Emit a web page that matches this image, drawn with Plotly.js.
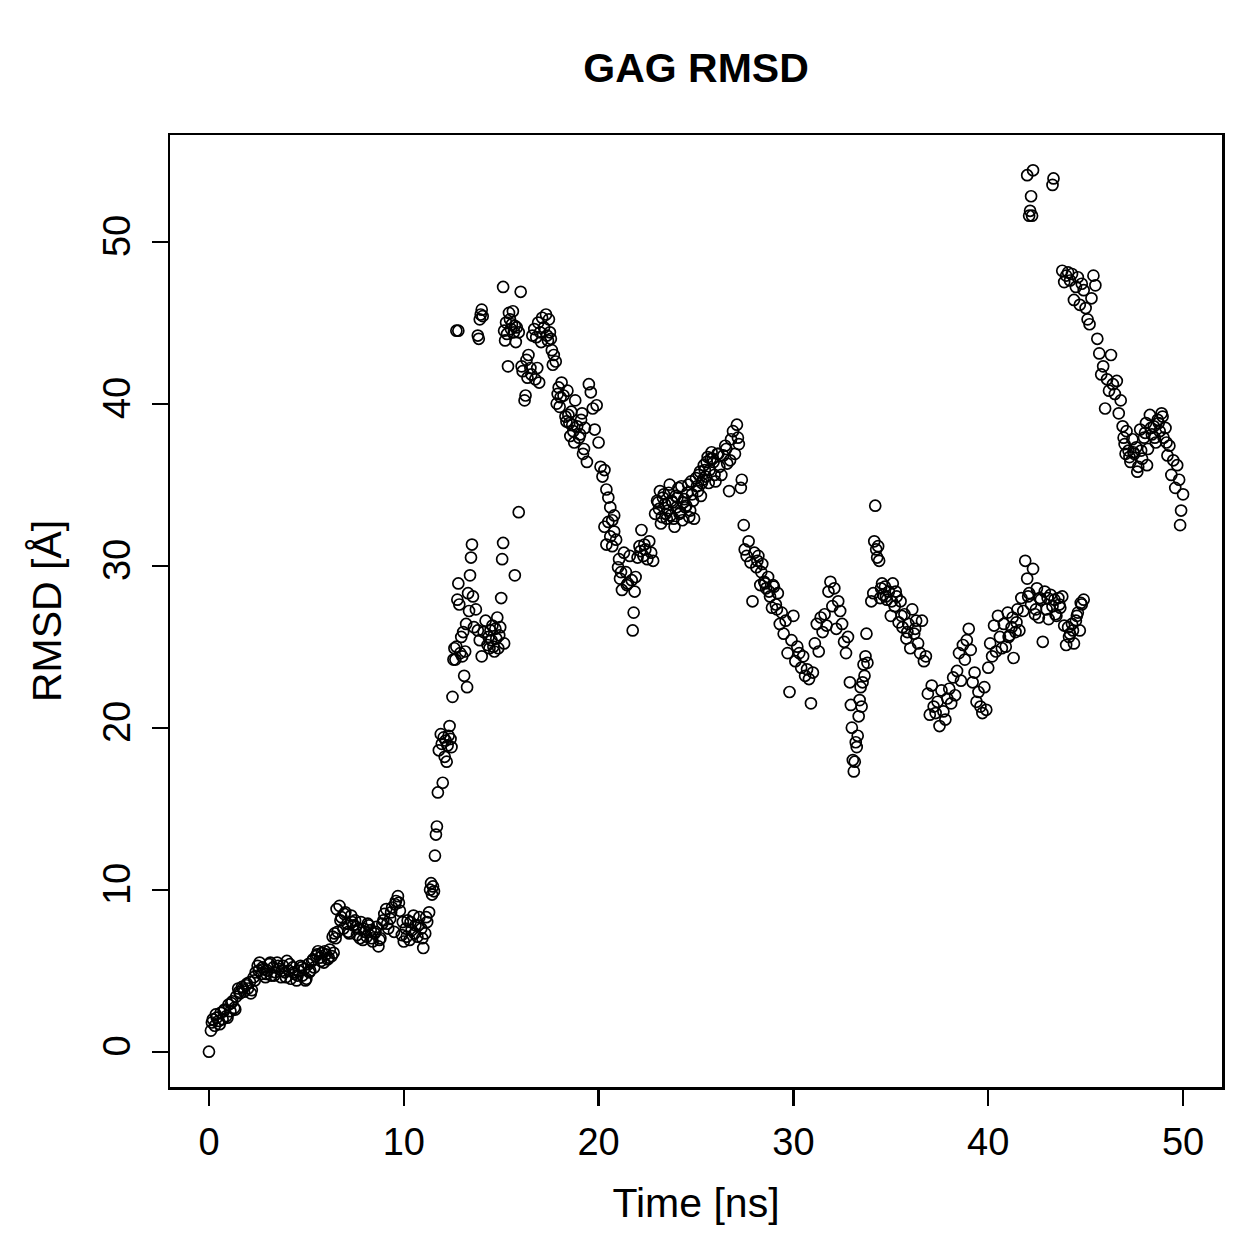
<!DOCTYPE html>
<html>
<head>
<meta charset="utf-8">
<script src="https://cdn.plot.ly/plotly-3.0.1.min.js"></script>
<style>html,body{margin:0;padding:0;background:#fff;}#chart{width:1259px;height:1259px;}</style>
</head>
<body>
<div id="chart"></div>
<script>
// Time [ns] and RMSD [Å] values, in segments
const tA = [0,0.1,0.2,0.3,0.4,0.5,0.6,0.7,0.8,0.9,1.0,1.1,1.2,1.3,1.4,1.5,1.6,1.7,1.8,1.9,2.0,2.1,2.2,2.3,2.4,0.15,0.35,0.55,0.75,0.95,1.15,1.35,1.55,1.75,1.95,2.15,2.35];
const rA = [0,1.3,2.0,1.6,2.1,1.9,2.4,2.0,2.6,2.2,2.9,2.5,3.1,2.7,3.4,3.9,3.6,4.0,3.7,4.1,3.9,4.3,3.8,4.6,4.9,1.8,2.3,1.7,2.5,2.1,3.0,2.6,3.7,3.9,4.2,3.6,4.4];

const tB = [2.5,2.6,2.7,2.8,2.9,3.0,3.1,3.2,3.3,3.4,3.5,3.6,3.7,3.8,3.9,4.0,4.1,4.2,4.3,4.4,4.5,4.6,4.7,4.8,4.9,5.0,5.1,5.2,5.3,5.4,5.5,5.6,5.7,5.8,5.9,6.0,6.1,6.2,6.3,6.4,2.55,2.75,2.95,3.15,3.35,3.55,3.75,3.95,4.15,4.35,4.55,4.75,4.95,5.15,5.35,5.55,5.75,5.95,6.15,6.35];
const rB = [5.3,5.5,4.8,5.1,4.6,5.0,5.4,4.7,5.2,4.9,5.5,5.1,4.6,5.3,4.9,5.6,5.0,4.5,5.2,4.8,4.4,5.0,5.3,4.7,5.1,4.5,5.4,5.0,5.6,5.2,5.9,6.2,5.8,6.1,5.5,6.0,5.7,6.3,5.9,6.1,5.0,5.2,4.8,5.5,4.7,5.3,5.0,4.6,5.4,4.9,4.7,5.2,4.4,4.9,5.7,6.0,5.6,6.2,5.8,7.1];

const tC = [6.5,6.6,6.7,6.8,6.9,7.0,7.1,7.2,7.3,7.4,7.5,7.6,7.7,7.8,7.9,8.0,8.1,8.2,8.3,8.4,8.5,8.6,8.7,8.8,8.9,9.0,9.1,9.2,9.3,9.4,9.5,9.6,9.7,9.8,9.9,10.0,10.1,10.2,10.3,10.4,10.5,10.6,10.7,10.8,10.9,11.0,11.1,11.2,11.3,6.45,6.55,6.75,6.95,7.15,7.35,7.55,7.75,7.95,8.15,8.35,8.55,8.75,8.95,9.15,9.35,9.55,9.75,9.95,10.15,10.35,10.55,10.75,10.95,11.15];
const rC = [7.0,7.4,9.0,8.3,7.6,8.6,7.9,7.3,8.4,7.8,8.1,7.2,7.6,8.0,6.9,7.4,7.1,7.8,7.5,6.8,7.3,7.7,6.5,7.0,7.9,8.5,8.8,7.6,8.2,8.9,7.4,9.3,9.6,8.7,7.2,6.8,7.6,8.1,6.9,7.5,8.4,7.8,7.1,8.3,7.6,6.4,7.3,8.0,8.6,7.3,8.8,8.1,8.5,7.4,8.0,7.7,7.0,7.6,7.9,7.0,7.4,6.9,8.1,7.9,8.6,9.1,9.2,8.0,7.1,8.0,7.3,7.8,7.0,8.3];

const tD = [11.35,11.4,11.45,11.5,11.55,11.6,11.65,11.7,11.75,11.8,11.9,11.95,12.0,12.05,12.1,12.15,12.2,12.25,12.3,12.35,12.4,12.45,12.5,12.55,12.6];
const rD = [10.0,10.4,9.7,10.2,9.9,12.1,13.4,13.9,16.0,18.6,19.6,19.0,16.6,19.4,18.2,19.2,17.9,18.9,19.5,20.1,19.3,18.8,21.9,24.2,24.9];

const tE = [12.65,12.7,12.75,12.8,12.85,12.9,12.95,13.0,13.05,13.1,13.15,13.2,13.25,13.3,13.35,13.4,13.45,13.5,13.55,13.6,13.7,13.8,13.9,14.0,14.1,14.2,14.3,14.35,14.4,14.45,14.5,14.55,14.6,14.65,14.7,14.75,14.8,14.85,14.9,14.95,15.0,15.05,15.1,15.15,15.7,15.9];
const rE = [24.2,25.0,27.9,28.9,27.6,24.6,25.6,24.4,25.9,23.2,24.7,26.4,22.5,28.3,27.2,29.4,30.5,31.3,28.1,26.2,27.3,26.0,25.4,24.4,25.9,26.6,25.1,25.6,24.9,26.0,25.4,26.3,25.0,24.7,26.1,25.5,26.8,24.9,25.7,26.2,28.0,30.4,31.4,25.2,29.4,33.3];

const tF = [12.7,12.8,13.8,13.85,13.9,13.95,14.0,14.05,15.1,15.15,15.2,15.25,15.3,15.35,15.4,15.45,15.5,15.55,15.6,15.65,15.7,15.75,15.8,15.9,16.0,16.05,16.1,16.2,16.25,16.3,16.35,16.4,16.5,16.55,16.6,16.7,16.75,16.8,16.85,16.9,16.95,17.0,17.05,17.1,17.2,17.3,17.35,17.4,17.45,17.5,17.55,17.6,17.65,17.7,17.8,17.85,17.9];
const rF = [44.5,44.5,44.2,44.0,45.2,45.5,45.8,45.4,47.2,44.5,43.9,45.0,44.3,42.3,45.6,45.2,44.6,44.9,45.7,44.4,44.8,43.8,44.7,44.4,46.9,42.3,42.0,40.2,40.5,42.7,41.6,43.0,42.2,41.8,44.2,44.6,41.5,44.1,42.2,45.0,41.3,44.4,43.8,45.3,44.7,45.5,44.2,43.9,45.2,44.4,44.0,43.3,42.4,43.0,42.6,40.0,40.6];

const tG = [18.0,18.1,18.2,18.3,18.4,18.5,18.6,18.7,18.8,18.9,19.0,19.1,19.2,19.3,19.4,19.5,19.6,19.7,19.8,19.9,20.0,20.1,20.2,20.3,20.4,20.5,20.6,20.7,20.8,17.95,18.05,18.35,18.45,18.55,18.65,18.75,19.05,19.15,19.25];
const rG = [39.8,41.3,40.5,39.2,40.8,38.8,39.5,38.3,40.2,38.6,37.9,39.0,36.9,38.5,36.4,41.2,40.7,39.7,38.4,39.9,37.6,36.1,35.5,35.9,34.7,34.2,33.6,32.8,33.1,41.0,40.4,38.9,39.3,38.0,38.7,37.6,38.1,39.4,37.2];

const tH = [20.3,20.4,20.5,20.6,20.7,20.8,20.9,21.0,21.1,21.2,21.3,21.4,21.5,21.6,21.7,21.75,21.8,21.85,21.9,22.0,22.1,22.2,22.3,22.4,22.5,22.6,22.7,22.8,21.05,21.15,21.45,22.15,22.35];
const rH = [32.4,31.3,32.7,31.8,31.2,32.1,31.6,29.9,29.2,28.5,30.8,29.6,28.9,30.6,29.1,26.0,27.1,28.4,29.3,30.5,31.2,32.2,30.6,31.0,30.4,31.5,30.8,30.3,30.4,29.6,28.8,30.9,31.3];

const tI = [22.9,23.0,23.1,23.2,23.3,23.4,23.5,23.6,23.7,23.8,23.9,24.0,24.1,24.2,24.3,24.4,24.5,24.6,24.7,24.8,24.9,25.0,25.1,25.2,25.3,25.4,25.5,25.6,25.7,25.8,25.9,26.0,26.1,26.2,26.3,26.4,26.5,26.6,26.7,26.8,26.9,27.0,27.1,27.2,27.3,26.55,26.75,27.15,27.35,23.45,23.95,24.45,25.35,25.75,26.15,
  23.05,23.15,23.25,23.35,23.55,23.65,23.75,23.85,24.05,24.15,24.25,24.35,24.55,24.65,24.75,24.85,25.05,25.15,25.25,25.45,25.55,25.65,25.85,25.95];
const rI = [33.2,34.0,33.5,32.6,34.2,33.8,32.9,34.5,33.1,33.9,32.4,33.6,34.8,33.3,32.8,34.1,33.7,35.0,33.4,34.4,32.9,35.4,34.6,35.8,35.1,36.2,35.5,36.7,35.9,37.0,36.4,35.2,36.9,36.1,35.6,36.8,37.4,36.3,34.6,37.8,38.3,36.9,38.7,37.5,34.8,37.2,36.5,37.9,35.3,33.2,34.3,33.6,35.3,36.6,36.9,
  33.9,34.6,33.0,34.4,33.4,35.0,34.0,32.9,34.2,33.2,34.9,33.9,34.5,33.0,35.2,34.0,34.9,35.6,34.3,35.9,36.4,35.1,36.6,35.6];

const tJ = [27.45,27.5,27.6,27.7,27.8,27.9,28.0,28.1,28.2,28.3,28.4,28.5,28.6,28.7,28.8,28.9,29.0,29.1,29.2,29.3,29.4,29.5,29.6,29.7,29.8,29.9,30.0,30.1,30.2,30.3,30.4,30.5,30.6,30.7,30.8,30.9,31.0,28.15,28.35,28.55,28.75,28.95,29.15];
const rJ = [32.5,31.0,30.6,31.5,30.2,27.8,30.8,29.9,30.6,28.8,30.1,29.0,28.6,29.3,28.1,27.4,28.7,27.6,28.3,26.4,27.1,25.8,26.6,24.6,22.2,25.4,26.9,24.1,25.0,24.6,23.7,24.4,23.2,23.6,23.0,21.5,23.4,30.3,29.6,28.9,28.4,28.8,27.3];

const tK = [31.1,31.2,31.3,31.4,31.5,31.6,31.7,31.8,31.9,32.0,32.1,32.2,32.3,32.4,32.5,32.6,32.7,32.8,32.9];
const rK = [25.2,26.4,24.7,26.8,25.9,27.0,26.3,28.4,29.0,27.5,28.6,26.1,27.8,27.2,26.4,25.3,24.6,25.6,22.8];

const tL = [32.95,33.0,33.05,33.1,33.15,33.2,33.25,33.3,33.35,33.4,33.45,33.5,33.55,33.6,33.65,33.7,33.75,33.8];
const rL = [21.4,20.0,18.0,17.3,17.9,19.1,18.8,19.5,20.7,21.7,22.5,21.3,22.8,23.9,23.2,24.4,25.8,24.0];

const tM = [34.0,34.1,34.15,34.2,34.25,34.3,34.35,34.4,34.45,34.5,34.6,34.7,34.8,34.9,35.0,35.1,35.2,35.3,35.4,35.5,35.6,35.7,35.8,35.9,36.0,36.1,36.2,36.3,36.4,36.5,36.6,36.7,36.8,34.55,34.75,35.05,35.25,35.55,35.85,36.25];
const rM = [27.8,28.3,31.5,33.7,31.0,30.5,31.2,30.3,28.0,28.6,28.2,28.7,27.9,28.4,26.9,28.9,27.5,28.1,26.5,27.8,26.2,27.0,25.5,26.4,24.9,27.3,25.8,26.6,25.2,24.6,26.6,24.1,24.4,28.9,28.1,27.8,28.4,26.9,25.9,26.1];

const tN = [36.9,37.0,37.1,37.2,37.3,37.4,37.5,37.6,37.7,37.8,37.9,38.0,38.1,38.2,38.3];
const rN = [22.1,20.8,22.6,21.3,20.9,21.6,20.1,22.3,21.0,20.5,21.8,22.4,21.5,23.1,22.0];

const tO = [38.4,38.5,38.6,38.7,38.8,38.9,39.0,39.1,39.2,39.3,39.4,39.5,39.6,39.7,39.8,39.9,40.0,40.1,40.2,40.3,40.4,40.5,40.6];
const rO = [23.5,24.6,22.9,25.1,24.2,25.4,26.1,24.8,22.8,23.4,21.6,22.2,21.3,20.9,22.5,21.1,23.7,25.2,24.4,26.3,24.7,26.9,25.6];

const tP = [40.7,40.8,40.9,41.0,41.1,41.2,41.3,41.4,41.5,41.6,41.7,41.8,41.9,42.0,42.1,42.2,42.3,42.4,42.5,42.6,42.7,42.8,42.9,43.0,43.1,43.2,43.3,43.4,43.5,43.6,43.7,43.8,43.9,44.0,44.1,44.2,44.3,44.4,44.5,44.6,44.7,44.8,44.9,41.05,41.25,41.45,42.05,42.45,42.65,43.05,43.45,43.65,44.15,44.35,44.55,44.75];
const rP = [24.9,26.4,25.0,27.1,25.7,26.2,24.3,25.9,27.3,26.0,28.0,27.2,30.3,29.2,28.3,27.6,29.8,27.0,28.6,26.8,27.9,25.3,28.4,27.3,26.7,28.2,27.5,27.9,26.9,28.0,27.4,28.1,26.3,25.1,26.2,25.8,26.4,25.2,26.6,27.1,26.0,27.6,27.9,25.6,26.8,26.5,28.1,27.3,28.0,28.0,27.0,27.6,25.6,26.0,26.9,27.7];

const tQ = [42.0,42.1,42.15,42.2,42.25,42.3,43.3,43.35];
const rQ = [54.1,51.6,51.9,52.8,51.6,54.4,53.5,53.9];

const tR = [43.8,43.9,44.0,44.1,44.2,44.3,44.4,44.5,44.6,44.7,44.8,44.9,45.0,45.1,45.2,45.3,45.4,45.5,45.6,45.7,45.8,45.9,46.0,46.1,46.2,46.3,46.4,46.5,46.6,46.7,46.8,46.9,47.0,47.1,47.2,47.3,47.4,47.5,47.6,47.7,47.8,47.9,48.0,48.1,48.2,48.3,48.4,48.5,48.6,48.7,48.8,48.9,49.0,49.1,49.2,49.3,49.4,49.5,49.6,49.7,49.8,49.9,50.0,49.85,47.05,48.15,47.65,46.95,47.25,47.45,47.85,48.05,48.35,48.55,48.75,48.95,49.15];
const rR = [48.2,47.5,47.9,48.1,47.6,48.0,46.4,47.2,47.8,46.1,47.4,47.0,45.9,45.2,44.9,46.5,47.9,47.3,44.0,43.1,41.8,42.3,39.7,41.5,40.8,43.0,41.2,40.6,41.4,39.4,40.2,38.6,37.5,38.3,37.1,36.4,37.8,36.9,37.3,36.1,38.4,36.6,37.9,38.8,37.2,39.3,38.1,38.6,37.6,39.0,38.3,39.4,37.9,38.5,36.8,37.4,35.6,36.5,34.8,36.2,35.3,33.4,34.4,32.5,36.9,36.2,35.8,37.9,36.7,37.0,37.1,38.2,38.5,37.9,38.8,39.2,37.6];

const timeSegs = [tA,tB,tC,tD,tE,tF,tG,tH,tI,tJ,tK,tL,tM,tN,tO,tP,tQ,tR];
const rmsdSegs = [rA,rB,rC,rD,rE,rF,rG,rH,rI,rJ,rK,rL,rM,rN,rO,rP,rQ,rR];
const xs = [], ys = [];
timeSegs.forEach((ts, i) => {
  const rs = rmsdSegs[i];
  const n = Math.min(ts.length, rs.length);
  for (let k = 0; k < n; k++) { xs.push(ts[k]); ys.push(rs[k]); }
});

const FONT = 'Liberation Sans, Arial, Helvetica, sans-serif';

Plotly.newPlot('chart', [{
  x: xs, y: ys, type: 'scatter', mode: 'markers',
  marker: {symbol: 'circle-open', size: 11, color: '#000', line: {color: '#000', width: 1.7}},
  hoverinfo: 'x+y'
}], {
  width: 1259, height: 1259,
  paper_bgcolor: '#fff', plot_bgcolor: '#fff',
  margin: {l: 170, r: 37, t: 135, b: 172, pad: 0},
  showlegend: false,
  font: {family: FONT, color: '#000', size: 38},
  title: {text: '<b>GAG RMSD</b>', x: 0.5, xref: 'paper', xanchor: 'center',
          y: 1 - 68/1259, yref: 'container', yanchor: 'middle',
          font: {family: FONT, size: 41, color: '#000'}},
  xaxis: {
    range: [-2, 52], tickvals: [0,10,20,30,40,50], ticktext: ['0','10','20','30','40','50'],
    ticks: 'outside', ticklen: 16, tickwidth: 2.2, tickcolor: '#000',
    showline: true, linecolor: '#000', linewidth: 2.5, mirror: true,
    showgrid: false, zeroline: false, ticklabelstandoff: 4,
    tickfont: {family: FONT, size: 38, color: '#000'},
    title: {text: 'Time [ns]', standoff: 26, font: {family: FONT, size: 41, color: '#000'}}
  },
  yaxis: {
    range: [-2.18, 56.58], tickvals: [0,10,20,30,40,50], ticktext: ['0','10','20','30','40','50'],
    ticks: 'outside', ticklen: 16, tickwidth: 2.2, tickcolor: '#000', tickangle: -90,
    showline: true, linecolor: '#000', linewidth: 2.5, mirror: true,
    showgrid: false, zeroline: false, ticklabelstandoff: 6,
    tickfont: {family: FONT, size: 38, color: '#000'},
    title: {text: 'RMSD [Å]', standoff: 22, font: {family: FONT, size: 41, color: '#000'}}
  }
}, {displayModeBar: false, staticPlot: true});
</script>
</body>
</html>
